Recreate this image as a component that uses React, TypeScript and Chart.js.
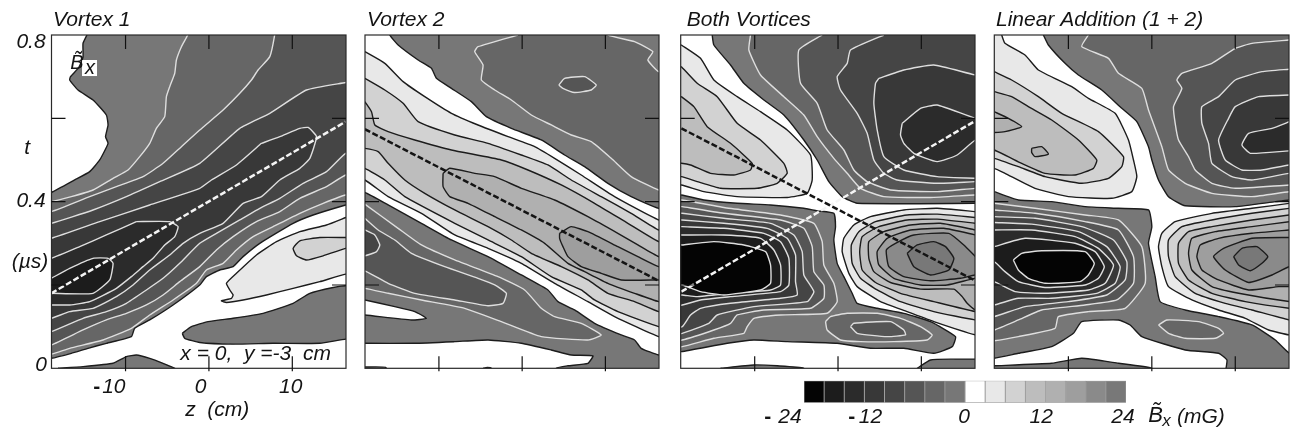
import React, { useEffect, useRef } from 'react';
import { Chart, registerables } from 'chart.js';

Chart.register(...registerables);

type Pt = [number, number];

// Contour levels are in bins of 3 mG: level n is the bin next to zero, counted outward.
const levelBins = [-8, -7, -6, -5, -4, -3, -2, -1, 0, 1, 2, 3, 4, 5, 6, 7];
const binColors = ['#040404', '#1c1c1c', '#2b2b2b', '#383838', '#454545', '#555555', '#666666', '#777777', '#ffffff', '#e8e8e8', '#d2d2d2', '#bdbdbd', '#b0b0b0', '#9e9e9e', '#8a8a8a', '#787878'];
const binEdges = [-24, -21, -18, -15, -12, -9, -6, -3, 0, 3, 6, 9, 12, 15, 18, 21, 24];

const zTicks = [-10, 0, 10];
const tTicks = [0.2, 0.4, 0.6];

// ---- Vortex 1 ----
const v1a: Pt[] = [[-14.6,.82],[-14.6,.802],[-15.1,.78],[-15.1,.747],[-15.6,.722],[-16.6,.7],[-16.7,.692],[-15.7,.668],[-13.9,.644],[-12.3,.608],[-12.1,.584],[-12.4,.556],[-12.1,.54],[-13.1,.5],[-14.3,.472],[-16.1,.452],[-18.9,.422],[-20,.42],[-20,.024],[-18.9,.024],[-16.5,.036],[-14.5,.048],[-12.3,.06],[-9.3,.076],[-8.9,.096],[-7.1,.116],[-4.3,.152],[-1.1,.2],[-.3,.22],[1.3,.236],[2.9,.244],[4.1,.268],[6.1,.3],[10.1,.348],[12.5,.368],[16.4,.392],[18,.4],[18,.82]];
const v1b: Pt[] = [[-3.2,.084],[-2.1,.1],[-.1,.112],[2.9,.12],[6.5,.132],[10.1,.156],[12.1,.18],[14.9,.194],[16.4,.198],[18,.198],[18,.07],[16.4,.07],[13.3,.06],[7.7,.06],[2.9,.058],[-1.1,.062],[-2.9,.072]];
const v1c: Pt[] = [[-18.1,0],[-15.1,.004],[-11.5,.012],[-9.9,.028],[-8.7,.032],[-7.1,.024],[-5.5,.012],[-4.1,0],[-4.1,-.01],[-18.1,-.01]];
const v1p1: Pt[] = [[16.4,.362],[14.1,.344],[10.9,.328],[8.1,.304],[5.7,.272],[3.3,.228],[2.1,.204],[2.5,.188],[2.9,.176],[2.7,.168],[1.5,.162],[2.1,.158],[4.1,.164],[6.9,.176],[10.1,.192],[13.3,.208],[16.4,.226],[18,.226],[18,.362]];
const v1p2: Pt[] = [[16.4,.314],[13.3,.314],[10.9,.306],[10.1,.288],[10.5,.27],[11.7,.26],[13.7,.27],[16.4,.288],[18,.288],[18,.314]];
const v1m2: Pt[] = [[-2.5,.82],[-2.5,.802],[-3.3,.772],[-3.9,.74],[-4.1,.708],[-4.7,.676],[-5.1,.652],[-5.3,.604],[-6.3,.576],[-7.1,.54],[-8.3,.508],[-9.7,.476],[-11.5,.456],[-13.9,.428],[-16.5,.412],[-18.9,.4],[-20,.4],[-20,.034],[-18.9,.034],[-16.7,.048],[-12.7,.068],[-9.3,.096],[-7.1,.128],[-4.3,.164],[-1.5,.204],[-.3,.236],[1.7,.252],[3.3,.284],[5.3,.316],[7.7,.34],[10.9,.372],[13.7,.396],[16.4,.416],[18,.416],[18,.82]];
const v1m3: Pt[] = [[7.9,.82],[7.9,.802],[7.3,.748],[5.9,.716],[5.1,.692],[3.7,.66],[1.7,.62],[-1.1,.572],[-3.3,.532],[-5.5,.492],[-7.9,.46],[-11.1,.436],[-14.3,.412],[-18.9,.376],[-20,.376],[-20,.056],[-18.9,.056],[-15.1,.092],[-12.3,.116],[-9.9,.132],[-7.5,.152],[-5.5,.176],[-3.5,.208],[-1.1,.244],[.9,.284],[2.9,.316],[5.7,.352],[8.5,.376],[10.9,.408],[14.1,.436],[16.4,.464],[18,.464],[18,.82]];
const v1m4: Pt[] = [[16.4,.686],[11.7,.668],[7.3,.612],[3.7,.576],[-1.1,.492],[-5.9,.448],[-9.9,.412],[-13.9,.38],[-18.9,.348],[-20,.348],[-20,.088],[-18.9,.088],[-15.1,.12],[-12.3,.136],[-9.9,.156],[-7.5,.188],[-5.5,.216],[-3.5,.252],[-1.1,.3],[.9,.324],[3.7,.356],[6.1,.384],[8.5,.408],[11.3,.444],[14.1,.472],[16.4,.516],[18,.516],[18,.686]];
const v1m5: Pt[] = [[6.3,.54],[8.5,.556],[10.9,.576],[11.9,.578],[12.9,.556],[12.1,.504],[10.9,.48],[8.5,.452],[6.3,.412],[4.1,.396],[1.7,.348],[-1.1,.324],[-3.1,.3],[-4.7,.272],[-7.1,.236],[-9.1,.2],[-11.1,.172],[-13.9,.144],[-16.7,.136],[-18.9,.12],[-20,.12],[-20,.312],[-18.9,.312],[-13.1,.352],[-7.1,.392],[-1.1,.432],[.3,.452],[3.3,.488]];
const v1m6: Pt[] = [[-8.7,.352],[-4.7,.352],[-3.7,.34],[-4.1,.316],[-5.3,.296],[-6.7,.264],[-7.9,.244],[-9.3,.22],[-11.1,.192],[-14.3,.16],[-16.7,.152],[-18.9,.152],[-20,.152],[-20,.264],[-18.9,.264],[-15.5,.292],[-12.3,.32]];
const v1m7: Pt[] = [[-18.9,.216],[-16.7,.24],[-13.9,.264],[-12.1,.264],[-11.5,.252],[-11.9,.212],[-13.9,.18],[-18.9,.18],[-20,.18],[-20,.216]];
const v1Dash: Pt[] = [[-18.9,.18],[16.4,.592]];

// ---- Vortex 2 ----
const v2a: Pt[] = [[-15.9,.82],[-15.9,.8],[-14.9,.776],[-12.5,.74],[-10.9,.72],[-10.3,.696],[-8.5,.672],[-6.1,.64],[-4.3,.604],[-1.3,.576],[2.3,.548],[5.1,.512],[7.5,.484],[10.3,.444],[13.1,.412],[16.4,.384],[18,.384],[18,.82]];
const v2b: Pt[] = [[-.5,.8],[-5.3,.772],[-5.7,.76],[-4.7,.728],[-4.9,.692],[-3.3,.668],[-1.3,.644],[1.1,.608],[3.5,.584],[5.9,.56],[8.3,.544],[10.7,.504],[13.1,.46],[16.4,.428],[18,.428],[18,.712],[16.4,.712],[15.1,.74],[15.7,.76],[13.5,.784],[10.3,.8],[10.3,.82],[-.5,.82]];
const v2c: Pt[] = [[4.4,.68],[5.1,.696],[7.5,.7],[8.9,.68],[8.3,.668],[6.3,.662],[4.9,.672]];
const v2d: Pt[] = [[-20,.422],[-18.9,.422],[-16.1,.392],[-12.1,.348],[-8.5,.308],[-4.1,.268],[-.1,.224],[3.1,.188],[4.3,.16],[6.3,.14],[8.7,.108],[11.9,.08],[13.5,.068],[14.3,.048],[16.4,.032],[18,.032],[18,-.02],[-20,-.02]];
const v2h1: Pt[] = [[-18.9,.164],[-15.3,.148],[-12.9,.136],[-11.5,.12],[-13.3,.116],[-18.9,.128],[-20,.128],[-20,.164]];
const v2h2: Pt[] = [[-18.9,.06],[-12.9,.06],[-8.1,.064],[-4.1,.068],[-.1,.06],[3.5,.044],[5.9,.032],[8.5,.03],[7.9,.012],[5.5,.006],[4.1,0],[4.1,-.02],[-20,-.02],[-20,.06]];
const v2f1: Pt[] = [[-20,.003],[-18.9,.003],[-16.4,.002],[-16,-.02],[-20,-.02]];
const v2f2: Pt[] = [[-4.7,0],[-4.2,.002],[-3.7,0],[-3.7,-.02],[-4.7,-.02]];
const v2e: Pt[] = [[-18.9,.394],[-14.9,.336],[-12.1,.296],[-8.1,.26],[-2.9,.22],[.3,.188],[2.3,.144],[3.9,.124],[7.1,.108],[9.5,.08],[7.9,.068],[2.3,.076],[-2.5,.112],[-6.9,.144],[-12.1,.164],[-16.1,.18],[-18.9,.192],[-20,.192],[-20,.394]];
const v2f: Pt[] = [[-18.9,.36],[-17.3,.332],[-15.3,.308],[-13.3,.276],[-9.3,.244],[-5.3,.216],[-3.3,.2],[-1.9,.18],[-2.3,.156],[-4.1,.15],[-8.1,.164],[-12.9,.18],[-16.1,.204],[-18.9,.234],[-20,.234],[-20,.36]];
const v2g: Pt[] = [[-18.9,.332],[-17.7,.32],[-17.1,.296],[-17.5,.28],[-18.9,.27],[-20,.27],[-20,.332]];
const v2p1: Pt[] = [[-18.9,.76],[-16.5,.732],[-14.3,.688],[-11.7,.652],[-8.5,.612],[-5.3,.584],[-1.7,.556],[1.5,.532],[3.9,.504],[7.1,.464],[11.1,.412],[16.4,.356],[18,.356],[18,.076],[16.4,.076],[11.1,.124],[7.9,.16],[3.9,.204],[-.1,.252],[-4.1,.288],[-8.1,.32],[-12.1,.372],[-16.1,.412],[-18.9,.452],[-20,.452],[-20,.76]];
const v2p2: Pt[] = [[-18.9,.696],[-16.5,.668],[-14.3,.636],[-12.5,.592],[-8.1,.56],[-4.1,.54],[-.1,.512],[3.1,.488],[5.9,.452],[9.5,.412],[13.1,.372],[16.4,.332],[18,.332],[18,.1],[16.4,.1],[11.5,.136],[8.7,.164],[7.1,.188],[3.5,.22],[-.1,.268],[-4.1,.308],[-8.1,.348],[-14.1,.412],[-16.5,.452],[-18.9,.48],[-20,.48],[-20,.696]];
const v2p3: Pt[] = [[-18.9,.64],[-18.1,.616],[-17.7,.584],[-16.1,.568],[-12.9,.548],[-8.5,.524],[-2.5,.5],[.7,.476],[4.7,.44],[8.7,.396],[12.7,.348],[16.4,.304],[18,.304],[18,.136],[16.4,.136],[13.5,.16],[10.3,.18],[7.9,.212],[4.7,.244],[1.1,.276],[-1.3,.308],[-4.1,.34],[-8.1,.38],[-11.7,.42],[-14.1,.452],[-16.1,.492],[-17.3,.52],[-18.9,.528],[-20,.528],[-20,.64]];
const v2p4: Pt[] = [[-9.5,.468],[-8.7,.48],[-5.7,.468],[-3.3,.46],[-.1,.432],[3.9,.404],[7.9,.364],[11.5,.324],[13.9,.296],[16.4,.268],[18,.268],[18,.16],[16.4,.16],[13.5,.18],[10.3,.204],[7.5,.232],[5.5,.252],[2.7,.3],[-.1,.332],[-3.3,.364],[-6.5,.396],[-8.7,.412],[-9.5,.436]];
const v2p5: Pt[] = [[4.5,.324],[5.9,.34],[7.9,.328],[11.5,.292],[13.9,.268],[16.4,.244],[18,.244],[18,.212],[16.4,.212],[11.9,.212],[9.5,.228],[7.1,.244],[5.5,.268],[4.9,.292],[4.5,.312]];
const v2Dash: Pt[] = [[-18.9,.574],[16.4,.21]];

// ---- Both vortices ----
const b1: Pt[] = [[-15.1,.8],[-14.9,.776],[-12.9,.728],[-11.3,.684],[-8.9,.644],[-6.5,.608],[-4.1,.548],[-2.5,.5],[-1.1,.448],[.5,.412],[2.3,.396],[16.5,.396],[18,.396],[18,.82],[-15.1,.82]];
const b2: Pt[] = [[-10.5,.8],[-10.7,.764],[-9.3,.704],[-6.5,.652],[-4.1,.608],[-2.5,.556],[-.5,.504],[1.1,.468],[2.7,.432],[5.5,.412],[11.1,.41],[16.5,.416],[18,.416],[18,.82],[-10.5,.82]];
const b3: Pt[] = [[-1.9,.8],[-4.7,.764],[-4.5,.684],[-2.5,.636],[-1.3,.572],[.7,.524],[1.9,.476],[3.5,.448],[6.3,.428],[11.9,.424],[16.5,.432],[18,.432],[18,.82],[-1.9,.82]];
const b4: Pt[] = [[5.5,.8],[1.5,.764],[1.1,.732],[-.1,.7],[.3,.668],[2.3,.612],[3.5,.564],[4.3,.5],[5.5,.468],[7.1,.452],[11.9,.444],[16.5,.448],[18,.448],[18,.82],[5.5,.82]];
const b5: Pt[] = [[4.9,.696],[7.9,.716],[11.5,.728],[16.5,.704],[18,.704],[18,.456],[16.5,.456],[11.9,.46],[7.9,.476],[5.5,.508],[4.7,.572],[4.3,.636],[4.5,.684]];
const b6: Pt[] = [[7.7,.588],[9.9,.624],[11.9,.632],[16.5,.6],[18,.6],[18,.548],[16.5,.548],[14.3,.512],[11.9,.496],[9.1,.516],[7.9,.54],[7.5,.56]];
const bTopP1: Pt[] = [[-18.8,.776],[-16.5,.744],[-14.9,.692],[-12.1,.652],[-9.3,.616],[-6.1,.572],[-3.3,.512],[-3.1,.452],[-3.7,.42],[-6.1,.41],[-12.1,.412],[-16.1,.424],[-18.8,.44],[-20,.44],[-20,.776]];
const bTopP2: Pt[] = [[-18.8,.724],[-16.9,.684],[-14.5,.652],[-12.1,.588],[-9.3,.548],[-6.5,.492],[-6.1,.468],[-7.3,.444],[-9.7,.432],[-14.1,.432],[-16.9,.448],[-18.8,.46],[-20,.46],[-20,.724]];
const bTopP3: Pt[] = [[-18.8,.652],[-17.3,.628],[-15.7,.58],[-12.9,.54],[-10.3,.492],[-10.5,.476],[-12.5,.464],[-15.3,.468],[-17.7,.488],[-18.8,.492],[-20,.492],[-20,.652]];
const bLow1: Pt[] = [[-18.8,.416],[-16.1,.404],[-12.1,.396],[-8.1,.392],[-4.1,.384],[-2.5,.378],[-.5,.372],[-.3,.34],[-.5,.308],[-.1,.252],[.7,.22],[1.7,.18],[2.3,.156],[4.7,.144],[7.9,.132],[11.1,.112],[14.1,.076],[13.7,.052],[11.5,.036],[7.9,.048],[3.9,.048],[-.1,.06],[-6.1,.064],[-10.1,.068],[-13.3,.06],[-18.8,.04],[-20,.04],[-20,.416]];
const bLow2: Pt[] = [[-18.7,.404],[-13.7,.386],[-6.9,.368],[-2.9,.348],[-1.9,.304],[-1.7,.248],[-.5,.204],[-.1,.16],[-1.3,.132],[-6.9,.128],[-10.1,.12],[-10.9,.1],[-11.3,.084],[-14.9,.072],[-18.7,.052],[-20,.052],[-20,.404]];
const bLow3: Pt[] = [[-18.7,.388],[-13.7,.372],[-6.9,.356],[-4.1,.336],[-3.1,.292],[-2.9,.232],[-1.7,.2],[-1.7,.168],[-3.3,.144],[-8.9,.14],[-12.1,.128],[-12.9,.108],[-14.9,.092],[-18.7,.068],[-20,.068],[-20,.388]];
const bLow4: Pt[] = [[-18.7,.372],[-13.7,.36],[-8.1,.348],[-5.3,.32],[-4.3,.28],[-4.1,.224],[-2.9,.184],[-3.7,.16],[-10.1,.148],[-14.5,.128],[-15.5,.108],[-18.7,.084],[-20,.084],[-20,.372]];
const bLow5: Pt[] = [[-18.7,.356],[-13.7,.348],[-8.5,.336],[-6.1,.312],[-5.1,.272],[-5.1,.208],[-4.9,.176],[-6.9,.168],[-12.9,.156],[-16.5,.144],[-17.7,.128],[-18.7,.1],[-20,.1],[-20,.356]];
const bLow6: Pt[] = [[-18.7,.34],[-13.7,.336],[-8.9,.324],[-6.9,.304],[-5.9,.264],[-5.9,.2],[-6.9,.184],[-12.9,.172],[-16.5,.164],[-18.7,.152],[-20,.152],[-20,.34]];
const bLow7: Pt[] = [[-18.7,.32],[-13.7,.32],[-9.3,.312],[-7.7,.284],[-6.9,.248],[-6.9,.2],[-8.1,.188],[-12.9,.18],[-16.9,.172],[-18.7,.176],[-20,.176],[-20,.32]];
const bLow8: Pt[] = [[-18.7,.296],[-14.9,.304],[-11.3,.296],[-8.7,.28],[-8.1,.248],[-8.1,.204],[-9.3,.188],[-13.7,.176],[-16.5,.184],[-18.7,.2],[-20,.2],[-20,.296]];
const bBlob1: Pt[] = [[-1.5,.112],[-.9,.124],[1.1,.132],[4.7,.132],[7.5,.12],[9.9,.1],[11.3,.08],[10.7,.068],[6.7,.064],[2.7,.064],[.3,.068],[-1.3,.092]];
const bBlob2: Pt[] = [[1.5,.1],[1.9,.108],[6.3,.112],[7.9,.092],[8.1,.08],[5.9,.076],[2.3,.084]];
const bFoot1: Pt[] = [[9.5,0],[11.1,.02],[13.9,.022],[16.5,.022],[18,.022],[18,-.02],[9.5,-.02]];
const bFoot2: Pt[] = [[-14.1,0],[-10.1,.008],[-7.3,.006],[-4.1,0],[-4.1,-.02],[-14.1,-.02]];
const bRing1: Pt[] = [[16.5,.376],[11.9,.384],[7.9,.38],[3.9,.364],[1.9,.344],[.7,.312],[.5,.28],[1.3,.228],[2.3,.196],[5.1,.16],[8.3,.136],[11.5,.112],[16.5,.08],[18,.08],[18,.376]];
const bRing2: Pt[] = [[16.5,.362],[11.9,.37],[8.3,.368],[4.5,.352],[2.5,.328],[1.6,.296],[1.7,.252],[2.7,.216],[4.7,.188],[7.5,.16],[11.5,.136],[16.5,.116],[18,.116],[18,.362]];
const bRing3: Pt[] = [[16.5,.348],[11.9,.358],[8.3,.356],[4.9,.34],[2.9,.316],[2.6,.28],[2.9,.236],[4.5,.206],[7.5,.18],[11.5,.16],[16.5,.136],[18,.136],[18,.348]];
const bRing4: Pt[] = [[16.5,.332],[12.3,.348],[8.7,.344],[5.5,.328],[3.7,.304],[3.7,.264],[4.3,.232],[6.3,.206],[9.9,.19],[13.9,.19],[14.9,.172],[15.5,.156],[16.5,.14],[18,.14],[18,.332]];
const bRing5: Pt[] = [[16.5,.32],[12.7,.336],[8.7,.332],[5.9,.312],[4.7,.28],[4.9,.248],[6.7,.216],[9.9,.2],[13.1,.2],[16.5,.216],[18,.216],[18,.32]];
const bRing6: Pt[] = [[16.5,.268],[15.1,.296],[13.3,.324],[9.1,.32],[6.9,.3],[5.8,.284],[6.1,.244],[7.9,.22],[11.1,.21],[14.7,.216],[16.5,.224],[18,.224],[18,.268]];
const bRing7: Pt[] = [[8.3,.276],[9.5,.296],[11.5,.304],[12.9,.292],[13.9,.264],[13.3,.236],[11.1,.224],[9.1,.244]];
const bDashDark: Pt[] = [[-18.8,.576],[16.5,.21]];
const bDashLight: Pt[] = [[-18.8,.184],[16.5,.594]];

// ---- Linear addition ----
const l1: Pt[] = [[-13,.8],[-12.4,.776],[-10.4,.732],[-8.8,.704],[-6,.668],[-3.6,.624],[-1.8,.592],[-.4,.532],[0,.5],[.8,.452],[2,.412],[4,.39],[10,.388],[14.8,.4],[16.5,.404],[18,.404],[18,.82],[-13,.82]];
const l2: Pt[] = [[-7.6,.8],[-8.4,.772],[-5.2,.744],[-4,.708],[-1.2,.672],[-.4,.62],[1.2,.532],[2,.476],[4,.444],[7.2,.42],[12,.412],[16.5,.424],[18,.424],[18,.82],[-7.6,.82]];
const l3: Pt[] = [[16.5,.788],[12,.78],[10,.768],[7.2,.732],[3.6,.708],[3,.692],[3.6,.672],[2.6,.628],[2.8,.588],[3.2,.548],[4.4,.508],[5.2,.476],[7.2,.444],[10,.432],[16.5,.44],[18,.44],[18,.788]];
const l4: Pt[] = [[16.5,.718],[13.2,.712],[10,.692],[8,.652],[6,.628],[6,.588],[6.8,.54],[7.2,.492],[9.6,.46],[12,.452],[16.5,.468],[18,.468],[18,.718]];
const l5: Pt[] = [[16.5,.656],[12.8,.652],[10,.628],[9.2,.6],[8,.548],[8.8,.5],[10.8,.476],[13.2,.476],[16.5,.488],[18,.488],[18,.656]];
const l6: Pt[] = [[16.5,.592],[14.4,.576],[11.6,.564],[10.8,.536],[11.8,.516],[16.5,.522],[18,.522],[18,.592]];
const lTopP1: Pt[] = [[-18,.8],[-17.6,.78],[-15.2,.752],[-13.6,.716],[-9.6,.676],[-7.6,.648],[-4.4,.612],[-2.8,.548],[-2.2,.5],[-1.8,.46],[-2.4,.424],[-4.8,.408],[-10,.412],[-14,.432],[-17.6,.468],[-18.9,.48],[-20,.48],[-20,.82],[-18,.82]];
const lTopP2: Pt[] = [[-18.9,.712],[-16.8,.692],[-13.6,.652],[-10.8,.612],[-6.4,.568],[-3.4,.508],[-3.6,.484],[-5.2,.456],[-8.4,.444],[-12.8,.46],[-16,.484],[-18.9,.504],[-20,.504],[-20,.712]];
const lTopP3: Pt[] = [[-18.9,.664],[-16.8,.652],[-14.8,.628],[-12,.596],[-8.8,.548],[-6.6,.5],[-7,.48],[-9.2,.464],[-12.8,.468],[-15.6,.492],[-18.9,.524],[-20,.524],[-20,.664]];
const lTopP4a: Pt[] = [[-18.9,.616],[-17.2,.6],[-15.6,.58],[-17.6,.568],[-18.9,.566],[-20,.566],[-20,.616]];
const lTopP4b: Pt[] = [[-14.4,.528],[-13.2,.532],[-12.4,.514],[-14,.508],[-14.4,.518]];
const lLow1: Pt[] = [[-18.9,.424],[-16,.404],[-12,.4],[-8,.388],[-4,.384],[-.4,.38],[0,.34],[-.4,.3],[.4,.22],[1,.16],[4,.14],[8,.124],[12,.104],[14.8,.068],[16.5,.036],[18,.036],[18,-.02],[8.9,-.02],[8.9,0],[9,.02],[8,.036],[4,.044],[-1.2,.076],[-2.6,.104],[-4,.116],[-8.4,.112],[-9.4,.084],[-12,.052],[-16,.036],[-18.9,.024],[-20,.024],[-20,.424]];
const lFoot: Pt[] = [[-18.9,.006],[-12,.012],[-8.4,.024],[-4,.012],[0,0],[0,-.02],[-20,-.02],[-20,.006]];
const lBlob: Pt[] = [[.8,.104],[1.8,.116],[5.6,.112],[8,.096],[8.6,.084],[7.6,.072],[4,.072],[2,.084]];
const lLow2: Pt[] = [[-18.9,.396],[-14,.384],[-8,.368],[-4,.356],[-1.2,.292],[-.8,.204],[-3.2,.144],[-7.6,.136],[-11.2,.124],[-11.6,.096],[-16,.076],[-18.9,.066],[-20,.066],[-20,.396]];
const lLow3: Pt[] = [[-18.9,.38],[-14,.372],[-8,.352],[-4,.332],[-2.2,.268],[-2.2,.204],[-4.2,.164],[-8,.152],[-13.2,.14],[-16,.116],[-18.9,.092],[-20,.092],[-20,.38]];
const lLow4: Pt[] = [[-18.9,.364],[-14,.36],[-8.4,.34],[-4.6,.308],[-3,.256],[-3.2,.212],[-5.4,.176],[-10,.16],[-15.2,.148],[-18.9,.124],[-20,.124],[-20,.364]];
const lLow5: Pt[] = [[-18.9,.35],[-14.4,.346],[-8.8,.328],[-5.4,.292],[-3.8,.244],[-4.4,.204],[-6.6,.18],[-12,.168],[-16,.168],[-18.9,.152],[-20,.152],[-20,.35]];
const lLow6: Pt[] = [[-18.9,.332],[-14.4,.332],[-9.2,.316],[-6.4,.288],[-4.6,.248],[-5.6,.204],[-7.6,.188],[-12.8,.18],[-16.4,.184],[-18.9,.208],[-20,.208],[-20,.332]];
const lLow7: Pt[] = [[-18.9,.292],[-15.2,.312],[-9.2,.3],[-6.8,.28],[-5.7,.244],[-6.4,.216],[-8,.2],[-12.8,.194],[-16,.208],[-17.6,.232],[-18.9,.256],[-20,.256],[-20,.292]];
const lLow8: Pt[] = [[-16.6,.26],[-15.6,.276],[-13.2,.282],[-8,.28],[-6.9,.252],[-7.6,.224],[-8.6,.208],[-12.8,.204],[-14.8,.216],[-16,.236]];
const lRing1: Pt[] = [[16.5,.396],[12,.384],[7.2,.372],[2.8,.352],[1.2,.324],[.8,.292],[1.2,.244],[2,.196],[4.8,.164],[8,.14],[11.2,.12],[14,.092],[16.5,.08],[18,.08],[18,.396]];
const lRing2: Pt[] = [[16.5,.384],[12,.372],[7.2,.356],[3.6,.34],[2,.308],[2,.268],[2.8,.22],[5.2,.18],[8.8,.156],[12,.14],[16.5,.116],[18,.116],[18,.384]];
const lRing3: Pt[] = [[16.5,.368],[12,.356],[7.2,.34],[4.4,.328],[3.2,.3],[3.2,.252],[4.4,.212],[7.2,.18],[11.2,.16],[16.5,.144],[18,.144],[18,.368]];
const lRing4: Pt[] = [[16.5,.352],[12,.34],[7.6,.328],[4.8,.312],[4.4,.276],[4.8,.236],[7.2,.196],[10.4,.18],[16.5,.16],[18,.16],[18,.352]];
const lRing5: Pt[] = [[16.5,.332],[12,.324],[8,.312],[5.8,.296],[5.4,.268],[6,.236],[8,.212],[11.6,.188],[15.2,.196],[16.5,.196],[18,.196],[18,.332]];
const lRing6: Pt[] = [[16.5,.314],[12,.312],[8.6,.288],[7.4,.268],[8.8,.236],[11.6,.206],[14.4,.224],[16.5,.244],[18,.244],[18,.314]];
const lRing7: Pt[] = [[9.8,.268],[10.8,.288],[12.6,.292],[13.9,.268],[13.2,.252],[11.8,.234],[10.4,.248]];

type Contour = [number, Pt[]];
const v1Contours: Contour[] = [[-1,v1a],[-1,v1b],[-1,v1c],[1,v1p1],[2,v1p2],[-2,v1m2],[-3,v1m3],[-4,v1m4],[-5,v1m5],[-6,v1m6],[-7,v1m7]];
const v2Contours: Contour[] = [[-1,v2a],[-2,v2b],[-3,v2c],[-1,v2d],[0,v2h1],[0,v2h2],[-1,v2f1],[-1,v2f2],[-2,v2e],[-3,v2f],[-4,v2g],[1,v2p1],[2,v2p2],[3,v2p3],[4,v2p4],[5,v2p5]];
const bothContours: Contour[] = [[-1,b1],[-2,b2],[-3,b3],[-4,b4],[-5,b5],[-6,b6],[1,bTopP1],[2,bTopP2],[3,bTopP3],[-1,bLow1],[-2,bLow2],[-3,bLow3],[-4,bLow4],[-5,bLow5],[-6,bLow6],[-7,bLow7],[-8,bLow8],[-2,bBlob1],[-3,bBlob2],[-1,bFoot1],[-1,bFoot2],[1,bRing1],[2,bRing2],[3,bRing3],[4,bRing4],[5,bRing5],[6,bRing6],[7,bRing7]];
const addContours: Contour[] = [[-1,l1],[-2,l2],[-3,l3],[-4,l4],[-5,l5],[-6,l6],[1,lTopP1],[2,lTopP2],[3,lTopP3],[4,lTopP4a],[4,lTopP4b],[-1,lLow1],[-1,lFoot],[-2,lBlob],[-2,lLow2],[-3,lLow3],[-4,lLow4],[-5,lLow5],[-6,lLow6],[-7,lLow7],[-8,lLow8],[1,lRing1],[2,lRing2],[3,lRing3],[4,lRing4],[5,lRing5],[6,lRing6],[7,lRing7]];

const FONT = '"Liberation Sans", Arial, sans-serif';
const DARK_LINE = '#1c1c1c';
const LIGHT_LINE = '#dedede';

type Note = { text: string; x: number; t?: number; below?: number; size?: number; align?: CanvasTextAlign; bold?: boolean };

const levelColor = (level: number) => binColors[levelBins.indexOf(level)];

const drawNotes = (chart: any, notes: Note[]) => {
  const ctx = chart.ctx;
  ctx.save();
  ctx.fillStyle = '#141414';
  ctx.textBaseline = 'middle';
  for (const n of notes) {
    const px = chart.scales.x.getPixelForValue(n.x);
    const py = n.below !== undefined ? chart.chartArea.bottom + n.below : chart.scales.y.getPixelForValue(n.t);
    ctx.font = `${n.bold ? 'bold ' : 'italic '}${n.size ?? 21}px ${FONT}`;
    ctx.textAlign = n.align ?? 'center';
    ctx.fillText(n.text, px, py);
  }
  ctx.restore();
};

const framePlugin = {
  id: 'panelFrame',
  afterDraw(chart: any, _a: any, opts: any) {
    const { ctx, chartArea: a, scales } = chart;
    ctx.save();
    if (opts.patch) {
      ctx.fillStyle = '#ffffff';
      const p = opts.patch;
      const x0 = scales.x.getPixelForValue(p[0]);
      const x1 = scales.x.getPixelForValue(p[2]);
      const y0 = scales.y.getPixelForValue(p[3]);
      const y1 = scales.y.getPixelForValue(p[1]);
      ctx.fillRect(x0, y0, x1 - x0, y1 - y0);
    }
    ctx.strokeStyle = '#2a2a2a';
    ctx.lineWidth = 1.2;
    ctx.strokeRect(a.left, a.top, a.right - a.left, a.bottom - a.top);
    ctx.strokeStyle = '#111';
    ctx.beginPath();
    for (const z of zTicks) {
      const x = scales.x.getPixelForValue(z);
      ctx.moveTo(x, a.top);
      ctx.lineTo(x, a.top + 14);
      ctx.moveTo(x, a.bottom + 3);
      ctx.lineTo(x, a.bottom - 12);
    }
    for (const t of tTicks) {
      const y = scales.y.getPixelForValue(t);
      ctx.moveTo(a.left, y);
      ctx.lineTo(a.left + 14, y);
      ctx.moveTo(a.right, y);
      ctx.lineTo(a.right - 14, y);
    }
    ctx.stroke();
    ctx.restore();
    drawNotes(chart, opts.notes ?? []);
  },
};

const barNotesPlugin = {
  id: 'barNotes',
  afterDraw(chart: any, _a: any, opts: any) {
    drawNotes(chart, opts.notes ?? []);
  },
};

const makeDatasets = (contours: Contour[], dashes: [Pt[], string][]) => {
  const n = contours.length;
  const polys = contours.map(([level, pts], i) => ({
    type: 'scatter',
    showLine: true,
    data: [...pts, pts[0]].map(([x, y]) => ({ x, y })),
    fill: 'shape',
    backgroundColor: levelColor(level),
    borderColor: level >= -1 ? DARK_LINE : LIGHT_LINE,
    borderWidth: 1.4,
    pointRadius: 0,
    tension: 0.15,
    order: n - i + 5,
  }));
  const lines = dashes.map(([pts, color], i) => ({
    type: 'scatter',
    showLine: true,
    data: pts.map(([x, y]) => ({ x, y })),
    fill: false,
    borderColor: color,
    borderWidth: 2.5,
    borderDash: [6, 2.5],
    pointRadius: 0,
    order: i,
  }));
  return [...polys, ...lines];
};

const titleT = 0.836;
const panelConfigs = [
  {
    title: 'Vortex 1', contours: v1Contours, dashes: [[v1Dash, '#f4f4f4']] as [Pt[], string][],
    css: { left: 0, width: 350 }, padL: 51.5, padR: 4, titleZ: -18.7, patch: [-15.22, .7015, -13.42, .74],
    notes: [
      { text: '0.8', x: -21.34, t: .783 }, { text: '0.4', x: -21.34, t: .4 }, { text: '0', x: -20.14, t: .008 },
      { text: 't', x: -21.8, t: .528 }, { text: '(µs)', x: -21.46, t: .255 },
      { text: '-', x: -13.46, below: 18.5, bold: true }, { text: '10', x: -11.4, below: 18.7 },
      { text: '0', x: -1, below: 18.7 }, { text: '10', x: 9.8, below: 18.7 },
      { text: 'z  (cm)', x: 1, below: 41.7 },
      { text: 'x = 0,  y =-3  cm', x: 5.6, t: .034 },
      { text: 'B\u0303', x: -15.82, t: .732, size: 20 }, { text: 'x', x: -14.26, t: .72, size: 20 },
    ] as Note[],
  },
  { title: 'Vortex 2', contours: v2Contours, dashes: [[v2Dash, '#141414']] as [Pt[], string][], css: { left: 360, width: 304 }, padL: 5, padR: 5, titleZ: -18.64, notes: [] as Note[] },
  { title: 'Both Vortices', contours: bothContours, dashes: [[bDashDark, '#141414'], [bDashLight, '#f4f4f4']] as [Pt[], string][], css: { left: 675, width: 304 }, padL: 5.7, padR: 4, titleZ: -18.16, notes: [] as Note[] },
  { title: 'Linear Addition (1 + 2)', contours: addContours, dashes: [] as [Pt[], string][], css: { left: 989, width: 303 }, padL: 5.3, padR: 3, titleZ: -18.68, notes: [] as Note[] },
];

const legendNotes: Note[] = [
  { text: '-', x: -29.4, below: 14.5, bold: true }, { text: '24', x: -26.1, below: 14.5 },
  { text: '-', x: -16.9, below: 14.5, bold: true }, { text: '12', x: -14.1, below: 14.5 },
  { text: '0', x: -.15, below: 14.5 }, { text: '12', x: 11.35, below: 14.5 }, { text: '24', x: 23.55, below: 14.5 },
  { text: 'B\u0303', x: 27.3, below: 13.5, align: 'left', size: 22 }, { text: 'x', x: 29.4, below: 19, align: 'left', size: 17 },
  { text: '(mG)', x: 31.6, below: 14.5, align: 'left' },
];

function Panel({ cfg }: { cfg: (typeof panelConfigs)[number] }) {
  const ref = useRef<HTMLCanvasElement>(null);
  useEffect(() => {
    const chart = new Chart(ref.current!, {
      type: 'scatter',
      data: { datasets: makeDatasets(cfg.contours, cfg.dashes) as any },
      plugins: [framePlugin],
      options: {
        animation: false,
        responsive: false,
        events: [],
        layout: { padding: { left: cfg.padL, right: cfg.padR, bottom: 63.7, top: 35 } },
        scales: {
          x: { type: 'linear', min: -18.88, max: 16.44, display: false },
          y: { type: 'linear', min: 0, max: 0.8, display: false },
        },
        plugins: {
          legend: { display: false },
          tooltip: { enabled: false },
          panelFrame: {
            notes: [...cfg.notes, { text: cfg.title, x: cfg.titleZ, t: titleT, align: 'left' }],
            patch: (cfg as any).patch,
          },
        } as any,
      },
    } as any);
    return () => chart.destroy();
  }, [cfg]);
  return <canvas ref={ref} width={cfg.css.width} height={432} style={{ position: 'absolute', top: 0, left: cfg.css.left, width: cfg.css.width, height: 432 }} />;
}

function ColorBar() {
  const ref = useRef<HTMLCanvasElement>(null);
  useEffect(() => {
    const datasets = binColors.map((c, i) => ({
      data: [[binEdges[i], binEdges[i + 1]]],
      backgroundColor: c,
      borderColor: '#9a9a9a',
      borderWidth: 0.8,
      borderSkipped: false,
      grouped: false,
      barPercentage: 1,
      categoryPercentage: 1,
    }));
    const chart = new Chart(ref.current!, {
      type: 'bar',
      data: { labels: ['B'], datasets: datasets as any },
      plugins: [barNotesPlugin],
      options: {
        animation: false,
        responsive: false,
        events: [],
        indexAxis: 'y',
        layout: { padding: { left: 54, right: 166, top: 10.7, bottom: 29.3 } },
        scales: {
          x: { type: 'linear', min: -24, max: 24, display: false },
          y: { type: 'category', display: false },
        },
        plugins: { legend: { display: false }, tooltip: { enabled: false }, barNotes: { notes: legendNotes } } as any,
      },
    } as any);
    return () => chart.destroy();
  }, []);
  return <canvas ref={ref} width={542} height={62} style={{ position: 'absolute', top: 370, left: 750, width: 542, height: 62 }} />;
}

export default function App() {
  useEffect(() => {
    document.body.style.margin = '0';
    document.body.style.background = '#fff';
    document.documentElement.style.overflow = 'hidden';
  }, []);
  return (
    <div style={{ position: 'absolute', left: 0, top: 0, width: 1292, height: 432, overflow: 'hidden', background: '#fff' }}>
      {panelConfigs.map((cfg) => <Panel key={cfg.title} cfg={cfg} />)}
      <ColorBar />
    </div>
  );
}
